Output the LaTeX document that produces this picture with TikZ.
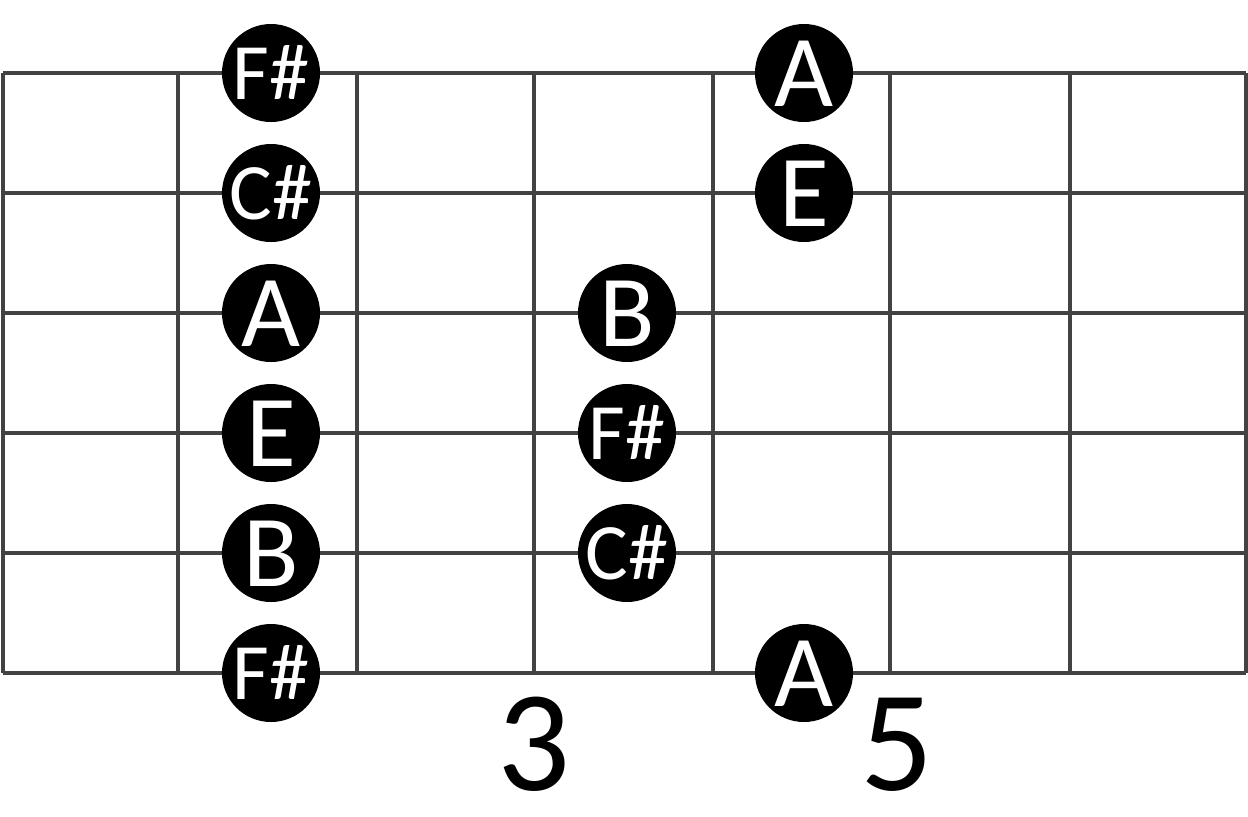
\documentclass[tikz,border=0pt]{standalone}
\usepackage{fontspec}
\setmainfont{Carlito}
\definecolor{fretgray}{RGB}{66,66,66}
\tikzset{
  fretline/.style={fretgray,line width=1.8pt},
  note/.style={circle,fill=black,text=white,inner sep=0pt,minimum size=49pt,
    text depth=0pt,text height=33pt,font=\fontsize{51}{51}\selectfont},
  sharp/.style={note,text height=26pt,font=\fontsize{40}{40}\selectfont},
  fretnum/.style={anchor=base,inner sep=0pt,font=\fontsize{72}{72}\selectfont}
}
\begin{document}
\begin{tikzpicture}[x=0.5pt,y=-0.5pt]
      \useasboundingbox (0,0) rectangle (1248,816);

      % strings
      \foreach \y in {73,193,313,433,553,673}
        \draw[fretline] (3,\y) -- (1246,\y);
      % frets
      \foreach \x in {3,178,357,534,713,890,1070,1246}
        \draw[fretline] (\x,73) -- (\x,673);

      % second fret
      \node[sharp] (fs1) at (271,73) {F\#};
      \node[sharp] (cs2) at (271,193) {C\#};
      \node[note] (a3) at (271,313) {A};
      \node[note] (e4) at (271,433) {E};
      \node[note] (b5) at (271,553) {B};
      \node[sharp] (fs6) at (271,673) {F\#};

      % fourth fret
      \node[note] (b3) at (627,313) {B};
      \node[sharp] (fs4) at (627,433) {F\#};
      \node[sharp] (cs5) at (627,553) {C\#};

      % fifth fret
      \node[note] (a1) at (804,73) {A};
      \node[note] (e2) at (804,193) {E};
      \node[note] (a6) at (804,673) {A};

      \node[fretnum] (three) at (534,790) {3};
      \node[fretnum] (five) at (897,790) {5};
\end{tikzpicture}
\end{document}
